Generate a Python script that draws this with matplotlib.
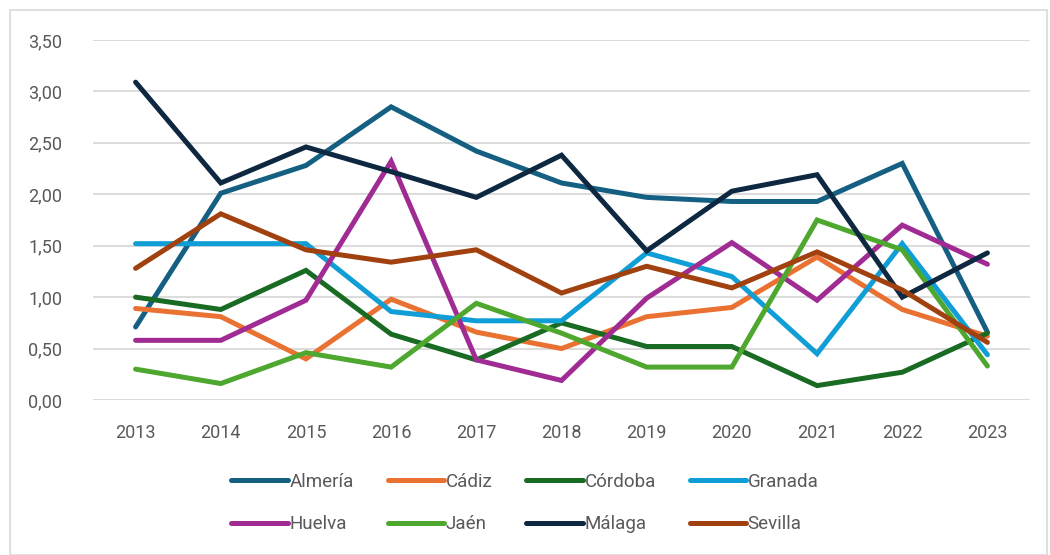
import matplotlib
matplotlib.use("Agg")
import matplotlib.pyplot as plt
from matplotlib.patches import Rectangle
from matplotlib.ticker import FuncFormatter

years = [2013, 2014, 2015, 2016, 2017, 2018, 2019, 2020, 2021, 2022, 2023]
almeria = [0.71, 2.01, 2.28, 2.85, 2.42, 2.11, 1.97, 1.93, 1.93, 2.30, 0.66]
cadiz = [0.89, 0.81, 0.40, 0.98, 0.66, 0.50, 0.81, 0.90, 1.39, 0.88, 0.62]
cordoba = [1.00, 0.88, 1.26, 0.64, 0.39, 0.75, 0.52, 0.52, 0.14, 0.27, 0.65]
granada = [1.52, 1.52, 1.52, 0.86, 0.77, 0.77, 1.43, 1.20, 0.45, 1.52, 0.44]
huelva = [0.58, 0.58, 0.97, 2.32, 0.39, 0.19, 0.99, 1.53, 0.97, 1.70, 1.32]
jaen = [0.30, 0.16, 0.46, 0.32, 0.94, 0.65, 0.32, 0.32, 1.75, 1.46, 0.33]
malaga = [3.09, 2.11, 2.46, 2.22, 1.97, 2.38, 1.45, 2.03, 2.19, 1.00, 1.43]
sevilla = [1.28, 1.81, 1.46, 1.34, 1.46, 1.04, 1.30, 1.09, 1.44, 1.07, 0.56]

names = ["Almería", "Cádiz", "Córdoba", "Granada", "Huelva", "Jaén", "Málaga", "Sevilla"]
series = [almeria, cadiz, cordoba, granada, huelva, jaen, malaga, sevilla]
colors = ["#156082", "#E97132", "#196B24", "#0F9ED5", "#A02B93", "#4EA72E", "#0E2841", "#A0410F"]

plt.rcParams['font.family'] = ['Roboto', 'DejaVu Sans']

fig = plt.figure(figsize=(10.5, 5.55), dpi=100)
ax = fig.add_axes([93/1050, 1-400/555, (1030-93)/1050, 360/555])

fig.patches.append(Rectangle((10/1050, 0), 1037/1050, 1-10/555, transform=fig.transFigure,
                             fill=False, edgecolor="#D9D9D9", linewidth=1.2))

lines = {}
for n, s, c in zip(names, series, colors):
    lines[n], = ax.plot(years, s, color=c, linewidth=3.6, label=n, solid_capstyle="round",
                        solid_joinstyle="miter")

ax.set_xlim(2012.5, 2023.5)
ax.set_ylim(0, 3.5)
ax.set_yticks([0, 0.5, 1.0, 1.5, 2.0, 2.5, 3.0, 3.5])
ax.yaxis.set_major_formatter(FuncFormatter(lambda v, p: f"{v:.2f}".replace(".", ",")))
ax.set_xticks(years)
ax.set_xticklabels([str(y) for y in years])
ax.grid(axis="y", color="#D9D9D9", linewidth=1.3)
ax.set_axisbelow(True)
for sp in ax.spines.values():
    sp.set_visible(False)
ax.tick_params(axis="both", length=0, labelsize=13, colors="#595959")
ax.tick_params(axis="y", pad=22)
ax.tick_params(axis="x", pad=17)

order = ["Almería", "Huelva", "Cádiz", "Jaén", "Córdoba", "Málaga", "Granada", "Sevilla"]
leg = fig.legend([lines[n] for n in order], order, loc="center", bbox_to_anchor=(0.5, 1-503/555),
                 ncol=4, frameon=False, fontsize=13.5, handlelength=3.0, handletextpad=0.1,
                 columnspacing=1.8, labelspacing=1.3)
for t in leg.get_texts():
    t.set_color("#595959")

fig.savefig("out.png", dpi=100, facecolor="white")
